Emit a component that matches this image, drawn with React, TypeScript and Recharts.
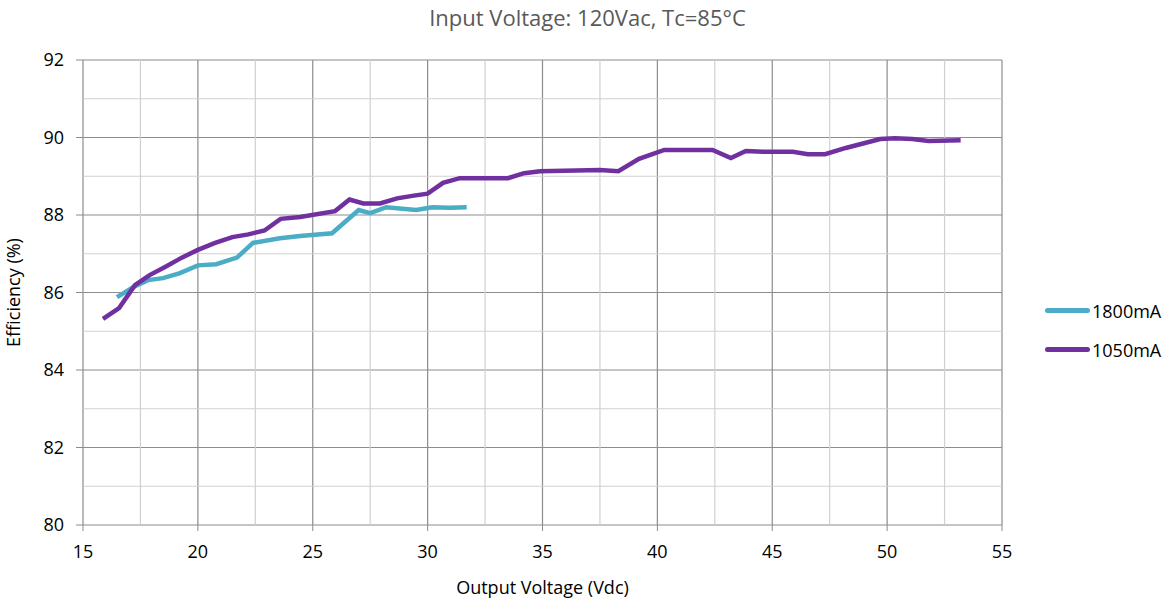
import { LineChart, Line, XAxis, YAxis, CartesianGrid, ReferenceLine } from 'recharts'

// 1800mA curve: [output voltage, efficiency]
const volts1800 = [16.48, 17.2, 17.83, 18.48, 19.22, 20.0, 20.8, 21.7, 22.4, 23.57, 24.45, 25.84, 27.0, 27.5, 28.2, 29.5, 30.2, 30.96, 31.7]
const eff1800 = [85.88, 86.14, 86.32, 86.37, 86.5, 86.7, 86.73, 86.9, 87.28, 87.4, 87.46, 87.53, 88.13, 88.05, 88.2, 88.13, 88.2, 88.19, 88.2]

// 1050mA curve
const volts1050 = [15.87, 16.57, 17.26, 17.9, 18.57, 19.3, 20.0, 20.75, 21.5, 22.2, 22.9, 23.6, 24.45, 25.97, 26.6, 27.2, 27.93, 28.67, 29.4, 30.0, 30.67, 31.4, 33.5, 34.2, 34.9, 37.5, 38.3, 39.2, 40.3, 42.4, 43.2, 43.85, 44.6, 45.9, 46.55, 47.3, 48.2, 49.7, 50.35, 51.1, 51.8, 53.2]
const eff1050 = [85.32, 85.6, 86.19, 86.45, 86.66, 86.9, 87.1, 87.28, 87.43, 87.5, 87.6, 87.9, 87.95, 88.1, 88.4, 88.3, 88.3, 88.43, 88.5, 88.55, 88.83, 88.95, 88.95, 89.08, 89.13, 89.16, 89.13, 89.45, 89.68, 89.68, 89.47, 89.65, 89.63, 89.63, 89.57, 89.57, 89.73, 89.96, 89.98, 89.96, 89.91, 89.93]

const xTicks = [15, 20, 25, 30, 35, 40, 45, 50, 55]
const yTicks = [80, 82, 84, 86, 88, 90, 92]
const xMinor = [17.5, 22.5, 27.5, 32.5, 37.5, 42.5, 47.5, 52.5]
const yMinor = [81, 83, 85, 87, 89, 91]

const series = [
  { name: '1800mA', color: '#4bacc6', volts: volts1800, eff: eff1800 },
  { name: '1050mA', color: '#7030a0', volts: volts1050, eff: eff1050 },
]

const FONT = '"Open Sans", sans-serif'
const GRID = '#8c8c8c'
const MINOR = '#d0d0d0'

export default function App() {
  return (
    <div style={{ position: 'absolute', left: 0, top: 0, width: 1175, height: 602, background: '#fff' }}>
      <div
        style={{
          position: 'absolute',
          top: 2,
          left: 0,
          width: 1175,
          textAlign: 'center',
          fontFamily: FONT,
          fontSize: 22,
          color: '#595959',
        }}
      >
        Input Voltage: 120Vac, Tc=85°C
      </div>
      <LineChart width={1175} height={602} margin={{ top: 60, right: 173, bottom: 0, left: 0 }}>
        {xMinor.map((v) => (
          <ReferenceLine key={'x' + v} x={v} stroke={MINOR} strokeWidth={1.2} />
        ))}
        {yMinor.map((v) => (
          <ReferenceLine key={'y' + v} y={v} stroke={MINOR} strokeWidth={1.2} />
        ))}
        <CartesianGrid stroke={GRID} strokeWidth={1.2} />
        <XAxis
          type="number"
          dataKey="x"
          domain={[15, 55]}
          ticks={xTicks}
          allowDataOverflow
          axisLine={false}
          tickLine={{ stroke: GRID }}
          tickSize={6}
          height={77}
          tickMargin={14}
          tick={{ fontSize: 18, fill: '#000', fontFamily: FONT }}
          label={{ value: 'Output Voltage (Vdc)', position: 'insideBottom', offset: 8, fontSize: 18, fill: '#000', fontFamily: FONT }}
        />
        <YAxis
          type="number"
          domain={[80, 92]}
          ticks={yTicks}
          allowDataOverflow
          axisLine={false}
          tickLine={{ stroke: GRID }}
          tickSize={7}
          width={83}
          tickMargin={12}
          tick={{ fontSize: 18, fill: '#000', fontFamily: FONT }}
          label={{ value: 'Efficiency (%)', angle: -90, position: 'insideLeft', offset: 14, style: { textAnchor: 'middle' }, fontSize: 18, fill: '#000', fontFamily: FONT }}
        />
        {series.map((s) => (
          <Line
            key={s.name}
            name={s.name}
            data={s.volts.map((v, i) => ({ x: v, y: s.eff[i] }))}
            dataKey="y"
            type="linear"
            stroke={s.color}
            strokeWidth={4.5}
            dot={false}
            isAnimationActive={false}
          />
        ))}
      </LineChart>
      <div style={{ position: 'absolute', left: 1045, top: 291, fontFamily: FONT, fontSize: 18, color: '#000' }}>
        {series.map((s) => (
          <div key={s.name} style={{ display: 'flex', alignItems: 'center', height: 39 }}>
            <div style={{ width: 45, height: 5, borderRadius: 3, background: s.color, marginRight: 2 }} />
            <span>{s.name}</span>
          </div>
        ))}
      </div>
    </div>
  )
}
